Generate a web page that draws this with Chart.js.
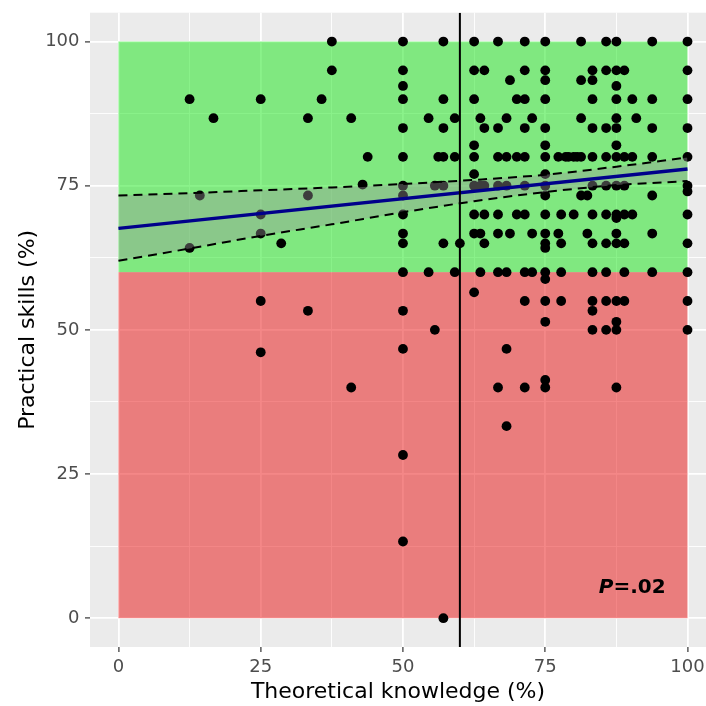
<!DOCTYPE html>
<html>
<head>
<meta charset="utf-8">
<script src="https://cdn.jsdelivr.net/npm/chart.js@4.4.0/dist/chart.umd.min.js"></script>
<style>
  html, body { margin: 0; padding: 0; background: #fff; }
</style>
</head>
<body>
<canvas id="skillsChart" width="706" height="706"></canvas>
<script>
// grid lines every 12.5, labels every 25
const gridSteps = [0, 12.5, 25, 37.5, 50, 62.5, 75, 87.5, 100];
const majorTicks = [0, 25, 50, 75, 100];

// pass marks (%)
const passKnowledge = 60;
const passSkills = 60;

// theoretical knowledge score (%) and the practical skills scores (%) found at it
const knowledgeLevels = [12.5, 14.3, 16.7, 25, 28.6, 33.3, 35.7, 37.5, 40.9, 42.9, 43.8, 50, 54.5, 55.6, 56.2, 57.1,
  59.1, 60, 62.5, 63.6, 64.3, 66.7, 68.2, 68.8, 70, 71.4, 72.7, 75, 77.3, 77.8, 78.6, 79.1, 80, 80.6, 81.3, 82.4,
  83.3, 85.7, 87.5, 88.9, 90.3, 91, 93.8, 100];
const skillsByLevel = [
  [90, 64.2],
  [73.3],
  [86.7],
  [90, 70, 66.7, 55, 46.1],
  [65],
  [86.7, 73.3, 53.3],
  [90],
  [100, 95],
  [86.7, 40],
  [75.2],
  [80],
  [100, 95, 92.3, 90, 85, 80, 75, 73.3, 70, 66.7, 65, 60, 53.3, 46.7, 28.3, 13.3],
  [86.7, 60],
  [75, 50],
  [80],
  [100, 90, 85, 80, 75, 65, 0],
  [86.7, 80, 60],
  [65],
  [100, 95, 90, 82, 80, 77, 75, 70, 66.7, 56.5],
  [86.7, 75, 66.7, 60],
  [95, 85, 75, 70, 65],
  [100, 85, 80, 75, 70, 66.7, 60, 40],
  [86.7, 80, 75, 60, 46.7, 33.3],
  [93.3, 66.7],
  [90, 80, 70],
  [100, 95, 90, 85, 80, 75, 70, 60, 55, 40],
  [86.7, 66.7, 60],
  [100, 95, 93.3, 90, 85, 82, 80, 77, 75, 73.3, 70, 66.7, 65, 64.2, 60, 58.8, 55, 51.4, 41.3, 40],
  [80, 66.7],
  [70, 65, 60, 55],
  [80],
  [80],
  [80, 70],
  [80],
  [100, 93.3, 86.7, 80, 73.3],
  [73.3, 66.7],
  [95, 93.3, 90, 85, 80, 75, 70, 65, 60, 55, 53.3, 50],
  [100, 95, 85, 80, 75, 70, 65, 60, 55, 50],
  [100, 95, 92.3, 90, 86.7, 85, 82, 80, 75, 70, 69.4, 66.7, 65, 55, 51.4, 50, 40],
  [95, 80, 75, 70, 65, 60, 55],
  [90, 80, 70],
  [86.7],
  [100, 90, 85, 80, 73.3, 66.7, 60],
  [100, 95, 90, 85, 80, 75, 74, 70, 65, 60, 55, 50]
];

// linear fit and its 95% band
const fitX = [0, 100];
const fitY = [67.6, 77.9];
const bandX = [0, 12.5, 25, 37.5, 50, 62.5, 75, 87.5, 100];
const bandUpper = [73.3, 73.7, 74.2, 74.7, 75.3, 76.0, 76.9, 78.3, 79.9];
const bandLower = [62.0, 64.1, 66.3, 68.3, 70.4, 72.3, 73.9, 75.1, 75.8];

const pValue = '.02';

const yMin = -5, yMax = 105;

const points = [];
knowledgeLevels.forEach((k, i) => skillsByLevel[i].forEach(s => points.push({ x: k, y: s })));
const toXY = (xs, ys) => xs.map((v, i) => ({ x: v, y: ys[i] }));

const FONT = 'DejaVu Sans';
Chart.defaults.font.family = FONT;

// gray panel, pass/fail zones, P value
const panelPlugin = {
  id: 'panel',
  beforeDraw(chart) {
    const { ctx, chartArea: a } = chart;
    ctx.save();
    ctx.fillStyle = '#EBEBEB';
    ctx.fillRect(a.left, a.top, a.right - a.left, a.bottom - a.top);
    ctx.restore();
  },
  beforeDatasetsDraw(chart) {
    const { ctx, scales: { x, y } } = chart;
    const l = x.getPixelForValue(0), r = x.getPixelForValue(100);
    const zone = (lo, hi, color) => {
      const t = y.getPixelForValue(hi), b = y.getPixelForValue(lo);
      ctx.fillStyle = color;
      ctx.fillRect(l, t, r - l, b - t);
    };
    ctx.save();
    zone(passSkills, 100, 'rgba(21,229,21,0.5)');
    zone(0, passSkills, 'rgba(233,15,15,0.5)');
    ctx.restore();
  },
  afterDatasetsDraw(chart) {
    const { ctx, scales: { x, y } } = chart;
    const px = x.getPixelForValue(84.4), py = y.getPixelForValue(4.4);
    ctx.save();
    ctx.fillStyle = '#000';
    ctx.textBaseline = 'alphabetic';
    ctx.font = 'italic bold 20px "' + FONT + '"';
    ctx.fillText('P', px, py);
    const w = ctx.measureText('P').width;
    ctx.font = 'bold 20px "' + FONT + '"';
    ctx.fillText('=' + pValue, px + w, py);
    ctx.restore();
  }
};

const setTicks = scale => { scale.ticks = gridSteps.map(v => ({ value: v })); };
const isMajor = v => majorTicks.includes(v);

const axisCommon = {
  type: 'linear',
  afterBuildTicks: setTicks,
  border: { display: false },
  grid: {
    color: '#FFFFFF',
    lineWidth: c => (c.tick && isMajor(c.tick.value)) ? 1.8 : 0.9,
    drawTicks: true,
    tickLength: 5,
    tickWidth: 1.2,
    tickColor: c => (c.tick && isMajor(c.tick.value)) ? '#333333' : 'rgba(0,0,0,0)'
  },
  ticks: {
    autoSkip: false,
    maxRotation: 0,
    color: '#4D4D4D',
    font: { size: 18 },
    callback: v => isMajor(v) ? v : ''
  }
};

new Chart(document.getElementById('skillsChart').getContext('2d'), {
  type: 'scatter',
  data: {
    datasets: [
      {
        label: 'Students',
        data: points,
        backgroundColor: '#000',
        borderWidth: 0,
        pointRadius: 4.9,
        order: 10
      },
      {
        type: 'line',
        label: 'Upper 95%',
        data: toXY(bandX, bandUpper),
        borderColor: '#000',
        borderWidth: 2,
        borderDash: [9, 6],
        backgroundColor: 'rgba(153,153,153,0.4)',
        fill: '+1',
        cubicInterpolationMode: 'monotone',
        pointRadius: 0,
        order: 5
      },
      {
        type: 'line',
        label: 'Lower 95%',
        data: toXY(bandX, bandLower),
        borderColor: '#000',
        borderWidth: 2,
        borderDash: [9, 6],
        fill: false,
        cubicInterpolationMode: 'monotone',
        pointRadius: 0,
        order: 4
      },
      {
        type: 'line',
        label: 'Fit',
        data: toXY(fitX, fitY),
        borderColor: '#00008B',
        borderWidth: 3.4,
        fill: false,
        pointRadius: 0,
        order: 3
      },
      {
        type: 'line',
        label: 'Pass mark',
        data: [{ x: passKnowledge, y: yMin }, { x: passKnowledge, y: yMax }],
        borderColor: '#000',
        borderWidth: 2,
        fill: false,
        pointRadius: 0,
        order: 1
      }
    ]
  },
  options: {
    responsive: false,
    animation: false,
    layout: { autoPadding: false, padding: { top: 12.7, right: 0, bottom: 0, left: 0 } },
    plugins: {
      legend: { display: false },
      tooltip: { enabled: false }
    },
    scales: {
      x: {
        ...axisCommon,
        min: -5,
        max: 103.25,
        afterFit: s => { s.height = 59; s.paddingLeft = 0; s.paddingRight = 0; },
        ticks: { ...axisCommon.ticks, padding: 4.5 },
        title: {
          display: true,
          text: 'Theoretical knowledge (%)',
          color: '#000',
          font: { size: 22 },
          padding: { top: 0, bottom: 1 }
        }
      },
      y: {
        ...axisCommon,
        min: yMin,
        max: yMax,
        afterFit: s => { s.width = 90; s.paddingTop = 0; s.paddingBottom = 0; },
        ticks: { ...axisCommon.ticks, padding: 5.5 },
        title: {
          display: true,
          text: 'Practical skills (%)',
          color: '#000',
          font: { size: 22 },
          padding: { top: 15, bottom: 0 }
        }
      }
    }
  },
  plugins: [panelPlugin]
});
</script>
</body>
</html>
